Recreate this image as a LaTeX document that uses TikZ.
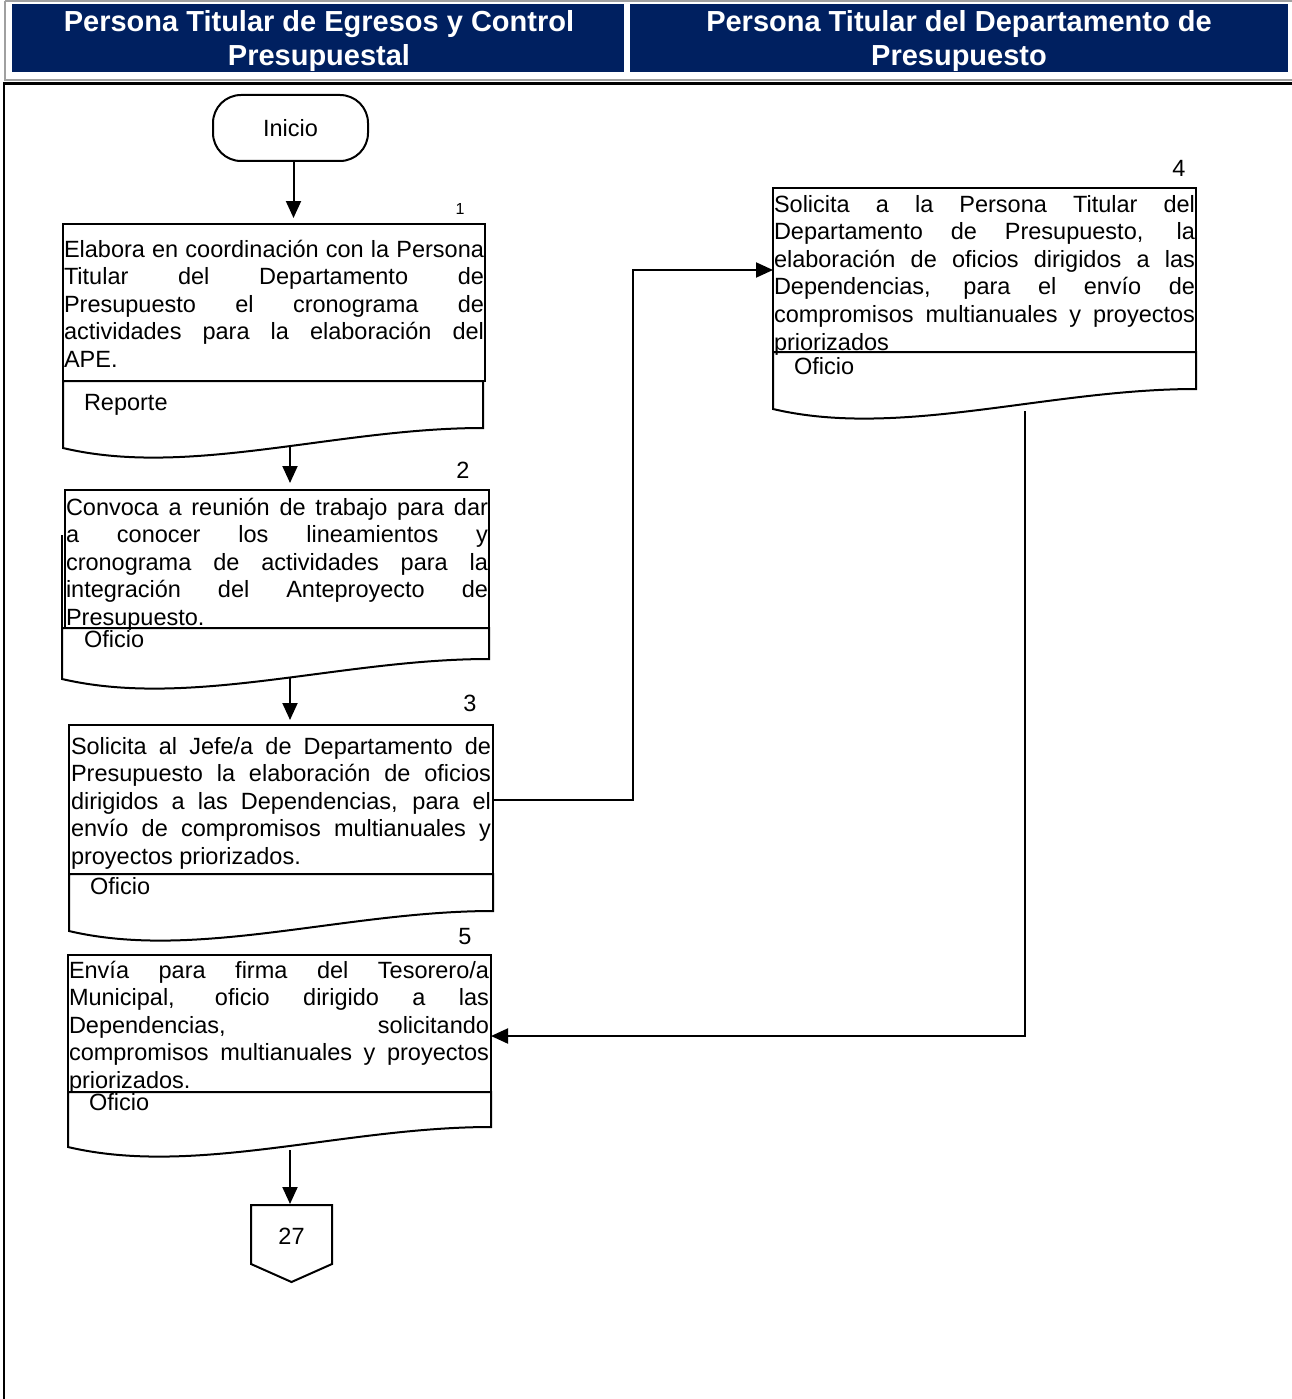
\documentclass[tikz,border=0pt]{standalone}
\usepackage{fontspec}
\setmainfont{Liberation Sans}
\usetikzlibrary{arrows.meta}
\definecolor{hdrblue}{RGB}{0,32,96}
\definecolor{framegray}{RGB}{160,160,160}
\hyphenpenalty=10000
\exhyphenpenalty=10000
\tolerance=10000
\hbadness=10000
\begin{document}
\begin{tikzpicture}[x=1pt,y=-1pt,
  every node/.style={inner sep=0pt, outer sep=0pt},
  boxst/.style={draw, line width=2pt, fill=white, anchor=north west},
  txt/.style={anchor=base west, align=justify, font=\fontsize{23.5}{27.6}\selectfont},
  lbl/.style={anchor=base west, font=\fontsize{23.5}{27.6}\selectfont},
  num/.style={anchor=base, font=\fontsize{23.5}{27.6}\selectfont},
  hdr/.style={align=center, text=white, font=\fontsize{29}{34}\selectfont\bfseries},
  conn/.style={line width=2pt, -{Triangle[length=17pt,width=15pt]}},
  plain/.style={line width=2pt},
  docst/.style={draw, line width=2pt, fill=white},
]
\useasboundingbox (0,0) rectangle (1292,1399);

% header
\draw[framegray, line width=2pt] (5,1) -- (1292,1);
\draw[framegray, line width=2pt] (5,1) -- (5,80) -- (1292,80);
\fill[hdrblue] (12,4) rectangle (624,72);
\fill[hdrblue] (630,4) rectangle (1288,72);
\node[hdr] (h1) at (319,41) {Persona Titular de Egresos y Control\\Presupuestal};
\node[hdr] (h2) at (959,41) {Persona Titular del Departamento de\\Presupuesto};
\draw[line width=2.5pt] (4,1399) -- (4,83.5) -- (1292,83.5);

% start
\node[draw, line width=2pt, rounded corners=28pt, minimum width=155pt, minimum height=66pt,
  font=\fontsize{23.5}{27.6}\selectfont] (inicio) at (290.5,128) {Inicio};

% documents
\draw[docst] (63,381) -- (483,381) -- (483,428) .. controls (336,428) and (189,478) .. (63,448) -- cycle;
\draw[docst] (62,628) -- (489,628) -- (489,659) .. controls (340,659) and (191,709) .. (62,679) -- cycle;
\draw[plain] (62,535) -- (62,628);
\draw[docst] (69,874) -- (493,874) -- (493,911) .. controls (345,911) and (196,961) .. (69,931) -- cycle;
\draw[docst] (773,352) -- (1196,352) -- (1196,389) .. controls (1048,389) and (900,439) .. (773,409) -- cycle;
\draw[docst] (68,1092) -- (491,1092) -- (491,1127) .. controls (343,1127) and (195,1177) .. (68,1147) -- cycle;

\coordinate (d1out) at (290,446);
\coordinate (d2out) at (290,678);
\coordinate (d4out) at (1025,411);
\coordinate (d5out) at (290,1150);

% boxes
\node[boxst, minimum width=422pt, minimum height=157pt] (b1) at (63,224) {};
\node[boxst, minimum width=424pt, minimum height=138pt] (b2) at (65,490) {};
\node[boxst, minimum width=424pt, minimum height=149pt] (b3) at (69,725) {};
\node[boxst, minimum width=423pt, minimum height=164pt] (b4) at (773,188) {};
\node[boxst, minimum width=423pt, minimum height=137pt] (b5) at (68,955) {};

% box texts
\node[txt, text width=420pt] (t1) at (64,257) {Elabora en coordinación con la Persona\linebreak
Titular del Departamento de\linebreak
Presupuesto el cronograma de\linebreak
actividades para la elaboración del\linebreak
APE.};
\node[txt, text width=422pt] (t2) at (66,515) {Convoca a reunión de trabajo para dar\linebreak
a conocer los lineamientos y\linebreak
cronograma de actividades para la\linebreak
integración del Anteproyecto de\linebreak
Presupuesto.};
\node[txt, text width=420pt] (t3) at (71,754) {Solicita al Jefe/a de Departamento de\linebreak
Presupuesto la elaboración de oficios\linebreak
dirigidos a las Dependencias, para el\linebreak
envío de compromisos multianuales y\linebreak
proyectos priorizados.};
\node[txt, text width=421pt] (t4) at (774,212) {Solicita a la Persona Titular del\linebreak
Departamento de Presupuesto, la\linebreak
elaboración de oficios dirigidos a las\linebreak
Dependencias, para el envío de\linebreak
compromisos multianuales y proyectos\linebreak
priorizados};
\node[txt, text width=420pt] (t5) at (69,978) {Envía para firma del Tesorero/a\linebreak
Municipal, oficio dirigido a las\linebreak
Dependencias, solicitando\linebreak
compromisos multianuales y proyectos\linebreak
priorizados.};

% numbers
\node[anchor=base, font=\fontsize{16}{18}\selectfont] (n1) at (460,214) {1};
\node[num] (n2) at (463,478.5) {2};
\node[num] (n3) at (470,711.5) {3};
\node[num] (n4) at (1179,176.5) {4};
\node[num] (n5) at (465,944.5) {5};

% doc labels
\node[lbl] (l1) at (84,410) {Reporte};
\node[lbl] (l2) at (84,647) {Oficio};
\node[lbl] (l3) at (90,894) {Oficio};
\node[lbl] (l4) at (794,374) {Oficio};
\node[lbl] (l5) at (89,1110) {Oficio};

% off-page connector
\draw[line width=2pt, fill=white] (251,1205) -- (332,1205) -- (332,1264) -- (291.5,1282) -- (251,1264) -- cycle;
\coordinate (c27top) at (290,1205);
\node[font=\fontsize{23.5}{27.6}\selectfont] (c27) at (291.5,1236) {27};

% connectors
\draw[conn, shorten >=6pt] ([xshift=3pt]inicio.south) -- ([xshift=3pt]inicio.south |- b1.north);
\draw[conn, shorten >=7pt] (d1out) -- (d1out |- b2.north);
\draw[conn, shorten >=5pt] (d2out) -- (d2out |- b3.north);
\draw[conn] (b3.east) -- ++(140,0) |- (b4.west);
\draw[conn] (d4out) |- ([yshift=-12.5pt]b5.east);
\draw[conn, shorten >=1pt] (d5out) -- (c27top);
\end{tikzpicture}
\end{document}
